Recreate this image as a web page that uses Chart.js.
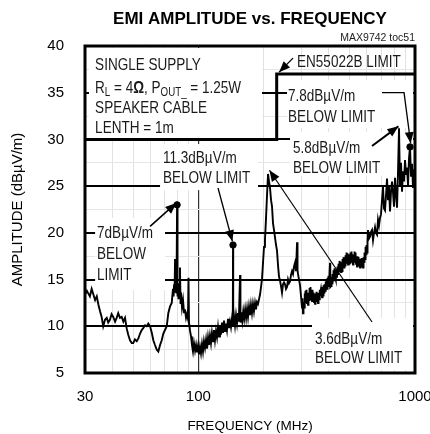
<!DOCTYPE html>
<html><head><meta charset="utf-8">
<script src="https://cdn.jsdelivr.net/npm/chart.js@4.4.1/dist/chart.umd.min.js"></script>
<style>html,body{margin:0;padding:0;background:#fff;}#wrap{width:430px;height:434px;}</style>
</head><body><div id="wrap"><canvas id="c" width="430" height="434"></canvas></div>
<script>
// ---- data ----
const freqMHz = [30.0,30.6,31.1,31.6,32.2,32.8,33.4,34.0,34.6,35.2,35.8,36.4,37.1,37.8,38.4,39.1,39.8,40.5,41.3,42.0,42.7,43.5,44.3,45.1,45.9,46.7,47.5,48.4,49.3,50.1,51.0,52.0,52.9,53.8,54.8,55.7,56.8,57.8,58.8,59.9,61.0,62.0,63.1,64.3,65.4,66.6,67.8,68.9,70.2,71.5,72.7,74.0,75.4,
76.4,76.9,77.3,77.7,78.1,78.5,78.9,79.3,79.8,80.2,80.6,81.0,81.5,82.3,82.8,83.2,84.1,85.0,85.9,86.8,87.8,88.7,89.6,90.1,90.6,91.6,92.6,93.5,94.5,95.5,96.6,97.6,98.6,99.7,100.7,101.8,102.9,104.0,105.1,106.2,107.4,108.6,109.8,110.9,112.0,113.2,114.4,115.6,116.9,118.1,119.4,120.7,122.0,123.3,124.6,125.9,127.2,128.6,130.0,131.4,132.8,134.2,135.6,137.1,138.5,140.0,141.5,143.1,144.3,144.6,144.9,146.3,147.7,149.3,150.9,152.5,153.8,155.8,156.5,158.0,159.6,161.2,162.8,164.5,166.2,167.9,169.6,171.4,173.2,175.0,176.9,178.8,180.7,182.7,184.6,186.6,188.6,192.7,194.7,196.8,198.9,201.0,203.1,205.3,207.5,209.8,212.0,214.3,216.6,218.9,221.2,223.6,226.0,228.4,230.8,233.3,235.8,238.3,240.8,243.4,246.0,248.6,251.3,254.0,256.7,259.4,262.2,265.0,267.8,270.7,273.6,276.5,279.5,282.5,285.5,287.0,288.5,291.6,294.7,297.9,301.0,302.6,304.2,305.8,307.5,309.1,310.7,312.4,314.1,315.7,317.4,319.1,320.8,322.5,324.3,326.0,327.7,329.5,331.2,333.0,334.8,336.5,338.3,340.1,342.0,343.8,345.6,347.5,349.3,351.2,353.1,355.0,356.8,358.7,360.6,362.5,364.4,368.3,372.3,374.3,376.3,378.3,380.3,382.3,384.3,386.3,388.4,390.5,392.6,394.7,396.8,398.9,401.0,403.1,405.3,406.4,409.6,411.8,414.0,416.2,418.4,420.6,422.9,425.1,427.4,429.6,431.9,434.2,436.5,438.9,441.3,443.6,446.0,448.4,450.8,453.2,455.6,458.0,460.5,463.0,465.4,467.9,470.4,472.9,475.4,478.0,480.5,483.0,485.6,488.2,490.8,493.4,496.0,498.6,501.3,503.9,506.6,509.3,512.0,514.8,517.6,520.3,523.1,525.9,528.7,531.5,534.4,537.2,540.1,543.0,545.9,548.8,551.7,554.6,557.6,560.5,563.5,566.5,569.5,572.5,575.6,578.7,581.8,584.9,588.0,591.2,594.3,597.4,600.6,603.8,607.1,613.5,620.0,626.7,633.3,640.1,647.0,653.9,660.9,668.0,675.1,682.3,689.5,696.9,704.3,711.9,719.5,727.1,734.9,742.8,750.7,758.7,766.8,775.0,783.3,791.7,800.1,808.7,817.3,826.1,834.9,843.8,852.9,862.0,871.2,880.5,890.0,899.5,909.1,918.7,928.6,938.5,948.5,958.7,968.9,979.3,989.8,1000];
const amplitude = [13.4,13.8,13.5,13.2,14.0,13.4,12.8,13.2,12.3,11.6,11.0,10.0,10.7,10.9,10.4,10.7,11.3,11.0,10.5,10.9,11.4,10.9,11.0,10.5,10.9,9.8,9.1,8.5,8.2,8.2,8.6,8.4,8.7,9.2,9.6,9.8,10.1,10.0,10.3,10.0,9.3,8.5,8.0,7.5,7.3,8.0,8.5,9.2,9.6,10.0,11.4,12.1,12.5,
14.0,13.2,14.5,13.6,17.2,13.8,14.8,13.5,23.0,13.2,14.6,12.9,14.2,16.3,12.5,13.6,12.0,12.8,11.5,11.8,10.9,11.3,10.8,15.2,10.4,9.5,8.9,8.0,7.3,8.2,7.4,8.0,7.2,7.9,7.0,7.8,7.1,8.1,7.3,8.4,7.7,8.6,7.6,8.8,8.0,9.0,8.2,9.3,8.4,9.6,8.5,9.5,8.8,9.9,8.9,10.1,9.1,10.4,9.3,10.6,9.5,10.3,9.6,10.8,9.8,10.5,9.9,10.9,10.3,18.7,10.0,11.0,10.1,11.2,10.3,11.4,10.5,15.5,10.4,11.5,10.6,11.6,10.8,11.8,10.9,11.9,11.0,12.1,11.2,12.3,11.4,12.4,11.6,12.5,11.8,12.6,12.4,13.4,14.2,15.1,16.8,18.5,19.3,21.5,24.0,26.3,25.5,24.8,23.5,22.8,21.0,20.3,19.5,18.7,18.1,16.5,15.3,14.9,14.3,13.6,14.5,14.7,14.5,14.0,14.2,15.0,14.6,14.8,15.5,15.9,15.6,16.4,16.8,15.9,19.0,16.0,15.6,15.0,14.4,13.2,12.0,13.0,11.4,12.6,12.0,13.5,12.4,13.8,12.6,13.9,12.5,13.4,12.3,13.6,12.8,14.1,13.0,14.2,12.9,13.8,12.7,13.9,12.9,13.6,12.6,13.3,12.4,13.5,12.8,13.7,12.7,13.4,12.5,13.6,12.9,13.9,13.2,14.0,13.1,14.2,13.3,14.4,13.6,14.5,13.8,14.8,13.9,14.9,14.0,15.2,14.3,15.4,14.6,15.6,16.8,14.2,14.3,15.3,14.6,15.6,14.9,16.0,15.1,16.2,15.3,16.1,15.0,16.0,15.2,16.4,15.6,16.7,15.9,17.0,16.1,16.9,15.8,16.8,15.9,17.2,16.4,17.4,16.3,17.3,16.5,17.6,16.8,17.9,17.0,17.8,16.6,17.5,16.7,17.7,16.8,17.9,17.1,18.0,16.9,17.7,16.6,17.6,16.9,18.0,17.1,17.9,16.7,17.4,16.4,17.5,16.8,17.4,16.5,17.2,16.3,17.2,16.5,17.3,16.4,17.1,16.3,17.4,16.9,17.9,17.2,18.5,17.7,18.7,17.9,19.0,20.3,19.4,19.6,20.1,20.3,19.2,20.0,20.6,20.0,19.8,21.4,20.8,21.6,22.0,23.5,24.9,22.6,22.4,24.0,25.8,23.5,25.0,22.3,24.4,25.5,24.3,22.8,25.9,24.1,22.7,26.5,31.2,25.0,27.5,24.4,26.6,25.5,27.8,26.2,27.0,25.1,28.0,29.2,26.0,27.4,24.8,26.8,25.5];
const limitFreq = [30, 230, 230, 1000];
const limitAmp = [30, 30, 37, 37];
const markerFreq = [79.8, 144.6, 948.5];
const markerAmp = [23.0, 18.7, 29.2];
const xGridValues = [30,40,50,60,70,80,90,100,200,300,400,500,600,700,800,900,1000];
const xTickLabels = [30,100,1000];
const yTickLabels = [5,10,15,20,25,30,35,40];

// ---- annotation layout (data coordinates) ----
const maskBoxes = [
  {f1:31.3, f2:196.8, a1:30.15, a2:39.78},
  {f1:256.7, f2:979.3, a1:31.22, a2:36.36},
  {f1:265.0, f2:979.3, a1:26.08, a2:30.79},
  {f1:66.6, f2:188.6, a1:24.58, a2:29.51},
  {f1:33.4, f2:70.2, a1:13.88, a2:21.59},
  {f1:334.8, f2:979.3, a1:5.32, a2:10.89}
];
const noteLines = [
  {f:33.4, a:37.43, runs:[{t:'SINGLE SUPPLY'}]},
  {f:33.4, a:34.97, runs:[{t:'R'},{t:'L',sub:true},{t:' = 4'},{t:'\u03A9',bold:true},{t:', P'},{t:'OUT_',sub:true},{t:' = 1.25W'}]},
  {f:33.4, a:32.83, runs:[{t:'SPEAKER CABLE'}]},
  {f:33.4, a:30.69, runs:[{t:'LENTH = 1m'}]},
  {f:285.5, a:37.75, runs:[{t:'EN55022B LIMIT'}]},
  {f:259.4, a:34.11, runs:[{t:'7.8dB\u00B5V/m'}]},
  {f:259.4, a:31.86, runs:[{t:'BELOW LIMIT'}]},
  {f:273.6, a:28.54, runs:[{t:'5.8dB\u00B5V/m'}]},
  {f:273.6, a:26.40, runs:[{t:'BELOW LIMIT'}]},
  {f:68.7, a:27.48, runs:[{t:'11.3dB\u00B5V/m'}]},
  {f:68.7, a:25.33, runs:[{t:'BELOW LIMIT'}]},
  {f:34.1, a:19.45, runs:[{t:'7dB\u00B5V/m'}]},
  {f:34.1, a:17.20, runs:[{t:'BELOW'}]},
  {f:34.1, a:14.95, runs:[{t:'LIMIT'}]},
  {f:345.6, a:8.10, runs:[{t:'3.6dB\u00B5V/m'}]},
  {f:345.6, a:6.07, runs:[{t:'BELOW LIMIT'}]}
];
const arrows = [
  {pts:[[273.6,38.7],[236,37.2]], w:1.3},
  {pts:[[704.3,35.0],[890,35.0],[955,29.6]], w:1.3},
  {pts:[[633.3,29.3],[838,31.4]], w:2},
  {pts:[[123.3,24.8],[143.6,19.1]], w:1.3},
  {pts:[[59.9,20.7],[79.2,23.2]], w:1.6},
  {pts:[[633.3,10.46],[213,26.7]], w:1.2}
];

const SANS = "'Liberation Sans',Arial,sans-serif";
const NOTE_SIZE = 16.5, NOTE_SQUEEZE = 0.82;

function drawArrow(ctx, pts, w) {
  ctx.save();
  ctx.strokeStyle = '#000'; ctx.fillStyle = '#000'; ctx.lineWidth = w;
  ctx.beginPath();
  ctx.moveTo(pts[0][0], pts[0][1]);
  for (let i = 1; i < pts.length; i++) ctx.lineTo(pts[i][0], pts[i][1]);
  ctx.stroke();
  const [x2, y2] = pts[pts.length-1], [x1, y1] = pts[pts.length-2];
  const ang = Math.atan2(y2-y1, x2-x1), L = 11, H = 4.5;
  ctx.beginPath();
  ctx.moveTo(x2, y2);
  ctx.lineTo(x2 - L*Math.cos(ang) + H*Math.sin(ang), y2 - L*Math.sin(ang) - H*Math.cos(ang));
  ctx.lineTo(x2 - L*Math.cos(ang) - H*Math.sin(ang), y2 - L*Math.sin(ang) + H*Math.cos(ang));
  ctx.closePath(); ctx.fill();
  ctx.restore();
}

const notesPlugin = {
  id: 'notes',
  beforeDatasetsDraw(chart) {
    const {ctx, scales:{x, y}} = chart;
    ctx.save(); ctx.fillStyle = '#fff';
    maskBoxes.forEach(b => {
      const l = x.getPixelForValue(b.f1), r = x.getPixelForValue(b.f2);
      const t = y.getPixelForValue(b.a2), btm = y.getPixelForValue(b.a1);
      ctx.fillRect(l, t, r-l, btm-t);
    });
    ctx.restore();
  },
  afterDatasetsDraw(chart) {
    const {ctx, scales:{x, y}, chartArea:ca} = chart;
    ctx.save();
    ctx.fillStyle = '#1a1a1a'; ctx.textBaseline = 'alphabetic'; ctx.textAlign = 'left';
    noteLines.forEach(line => {
      let px = x.getPixelForValue(line.f); const py = y.getPixelForValue(line.a);
      line.runs.forEach(run => {
        const size = run.sub ? NOTE_SIZE*0.72 : NOTE_SIZE;
        ctx.font = (run.bold ? 'bold ' : '') + size + 'px ' + SANS;
        ctx.save();
        ctx.translate(px, py + (run.sub ? 3.5 : 0));
        ctx.scale(NOTE_SQUEEZE, 1);
        ctx.fillText(run.t, 0, 0);
        ctx.restore();
        px += ctx.measureText(run.t).width * NOTE_SQUEEZE;
      });
    });
    arrows.forEach(a => drawArrow(ctx, a.pts.map(p => [x.getPixelForValue(p[0]), y.getPixelForValue(p[1])]), a.w));
    ctx.strokeStyle = '#000'; ctx.lineWidth = 3;
    ctx.strokeRect(ca.left, ca.top, ca.right-ca.left, ca.bottom-ca.top);
    ctx.restore();
  }
};

new Chart(document.getElementById('c'), {
  type: 'scatter',
  data: {
    datasets: [
      {label:'EMI', data: freqMHz.map((f,i)=>({x:f, y:amplitude[i]})), showLine:true, borderColor:'#000', borderWidth:1.9, pointRadius:0, tension:0},
      {label:'EN55022B', data: limitFreq.map((f,i)=>({x:f, y:limitAmp[i]})), showLine:true, borderColor:'#000', borderWidth:3, pointRadius:0, tension:0},
      {label:'peaks', data: markerFreq.map((f,i)=>({x:f, y:markerAmp[i]})), showLine:false, pointRadius:3.2, pointBackgroundColor:'#000', pointBorderColor:'#000'}
    ]
  },
  options: {
    responsive:false, animation:false, devicePixelRatio:1, events:[],
    layout:{padding:{left:0, right:15, top:0, bottom:0}},
    plugins:{
      legend:{display:false}, tooltip:{enabled:false},
      title:{display:true, text:'EMI AMPLITUDE vs. FREQUENCY', fullSize:false, color:'#000',
        font:{family:SANS, size:17, weight:'bold', lineHeight:1.2}, padding:{top:9, bottom:0}},
      subtitle:{display:true, text:'MAX9742 toc51', fullSize:false, align:'end', color:'#222',
        font:{family:SANS, size:10.5, lineHeight:1.2}, padding:{top:2.3, bottom:1.7}}
    },
    scales:{
      x:{type:'logarithmic', position:'bottom', min:30, max:1000,
        afterBuildTicks(s){ s.ticks = xGridValues.map(v=>({value:v})); },
        afterFit(s){ s.height = 61; s.paddingLeft = 0; s.paddingRight = 0; },
        ticks:{autoSkip:false, maxRotation:0, padding:15, color:'#000', font:{family:SANS, size:15},
          callback:(v)=> xTickLabels.includes(v) ? String(v) : ''},
        grid:{drawTicks:false, color:(c)=> c.tick && c.tick.value===100 ? '#333' : '#e2e2e2', lineWidth:(c)=> c.tick && c.tick.value===100 ? 1.2 : 1},
        border:{display:false},
        title:{display:true, text:'FREQUENCY (MHz)', color:'#000', font:{family:SANS, size:13.5, lineHeight:1.2}, padding:{top:0, bottom:0}}
      },
      y:{type:'linear', position:'left', min:5, max:40,
        afterFit(s){ s.width = 85; },
        ticks:{stepSize:2.5, autoSkip:false, padding:21, color:'#000', font:{family:SANS, size:15},
          callback:(v)=> yTickLabels.includes(v) ? String(v) : ''},
        grid:{drawTicks:false, color:(c)=> c.tick && c.tick.value%5===0 ? '#000' : '#e6e6e6', lineWidth:(c)=> c.tick && c.tick.value%5===0 ? 2 : 1},
        border:{display:false},
        title:{display:true, text:'AMPLITUDE (dB\u00B5V/m)', color:'#000', font:{family:SANS, size:15, lineHeight:1.2}, padding:{top:9}}
      }
    }
  },
  plugins:[notesPlugin]
});
</script></body></html>
